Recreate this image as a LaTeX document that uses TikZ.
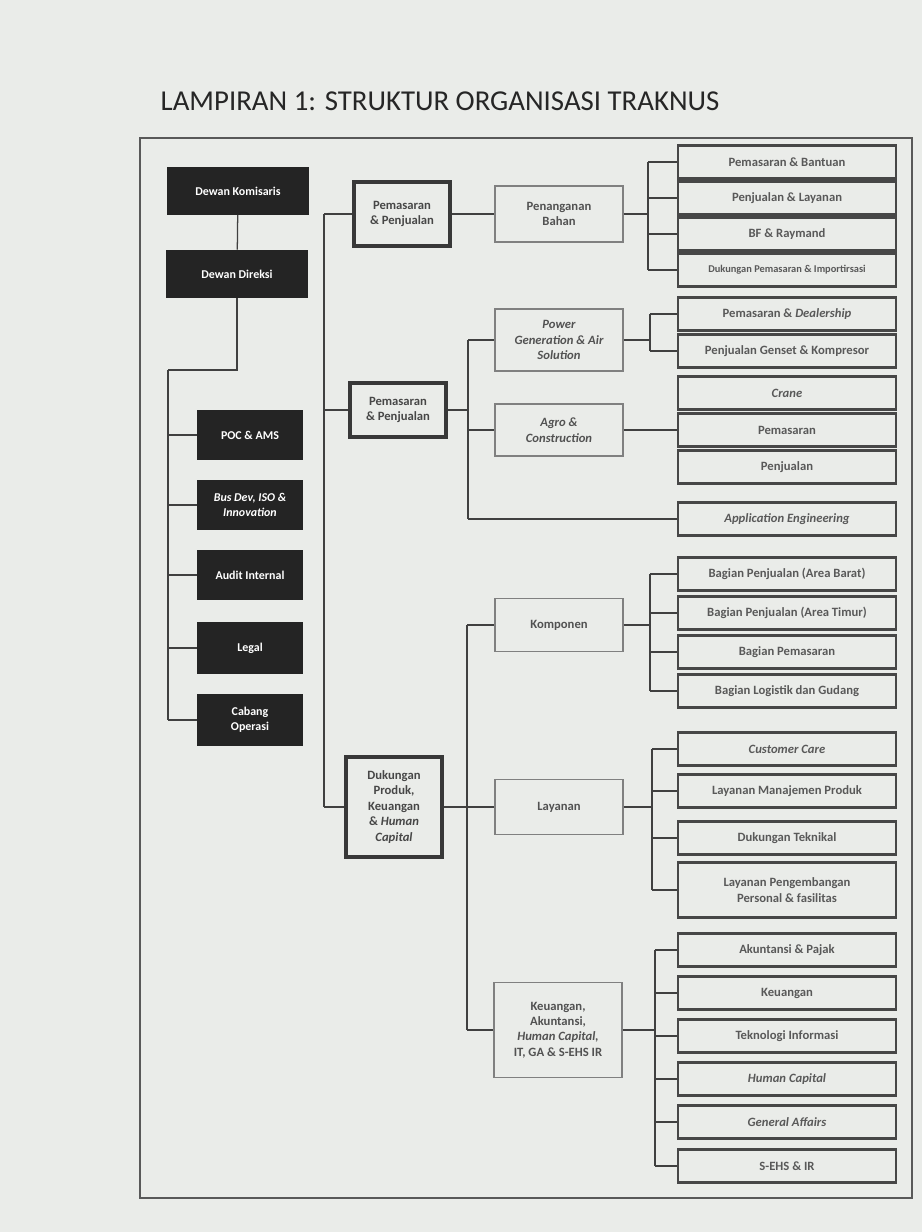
\documentclass[tikz,border=0pt]{standalone}
\usepackage{fontspec}
\setmainfont{Carlito}
\usetikzlibrary{positioning,calc}
\definecolor{paper}{RGB}{234,236,233}
\newcommand{\bxfont}{\fontsize{9}{11}\selectfont\bfseries}
\newcommand{\smfont}{\fontsize{7.4}{9}\selectfont\bfseries}
\newcommand{\dkfont}{\fontsize{8.5}{10.5}\selectfont\bfseries}
\tikzset{
  dk/.style  ={rectangle, fill=black!86, text=white, font=\dkfont, align=center, inner sep=2pt},
  lvl/.style ={rectangle, draw=black!78, line width=2.2pt, text=black!72, font=\bxfont, align=center, minimum width=2.4cm, inner sep=2pt},
  sub/.style ={rectangle, draw=black!50, line width=1pt, text=black!68, font=\bxfont, align=center, minimum width=3.2cm, inner sep=2pt},
  unit/.style={rectangle, draw=black!72, line width=1.8pt, text=black!65, font=\bxfont, align=center, minimum width=5.45cm, minimum height=0.82cm, inner sep=2pt},
  frm/.style ={draw=black!65, line width=0.8pt},
  e/.style   ={draw=black!75, line width=0.9pt},
}
\begin{document}
\begin{tikzpicture}[x=0.025cm,y=-0.025cm]
\fill[paper] (0,0) rectangle (922,1232);
\useasboundingbox (0,0) rectangle (922,1232);
\node[font=\fontsize{20.5}{24}\selectfont, text=black!85] (title) at (440,101) {LAMPIRAN 1: STRUKTUR ORGANISASI TRAKNUS};
\draw[frm] (140,138) rectangle (912,1198);
% boards and staff units
\node[dk, minimum width=3.55cm, minimum height=1.18cm] (kom) at (238,191) {Dewan Komisaris};
\node[dk, minimum width=3.55cm, minimum height=1.2cm] (dir) at (237,274) {Dewan Direksi};
\node[dk, minimum width=2.65cm, minimum height=1.25cm] (poc) at (250,435) {POC \& AMS};
\node[dk, minimum width=2.65cm, minimum height=1.25cm] (bdv) at (250,505) {\itshape Bus Dev, ISO \&\\\itshape Innovation};
\node[dk, minimum width=2.65cm, minimum height=1.25cm] (aud) at (250,575) {Audit Internal};
\node[dk, minimum width=2.65cm, minimum height=1.3cm] (leg) at (250,648) {Legal};
\node[dk, minimum width=2.65cm, minimum height=1.3cm] (cab) at (250,720) {Cabang\\Operasi};
\coordinate (lt) at (168,370);
\draw[e] (kom) -- (dir);
\draw[e] (dir.south) |- (lt);
\draw[e] (lt) -- (lt |- cab);
\draw[e] (lt |- poc) -- (poc.west);  \draw[e] (lt |- bdv) -- (bdv.west);
\draw[e] (lt |- aud) -- (aud.west);  \draw[e] (lt |- leg) -- (leg.west);
\draw[e] (lt |- cab) -- (cab.west);
% directorates
\node[lvl, minimum height=1.6cm] (pp1) at (402,214) {Pemasaran\\\& Penjualan};
\node[lvl, minimum height=1.35cm] (pp2) at (398,410) {Pemasaran\\\& Penjualan};
\node[lvl, minimum height=2.5cm] (dpk) at (394,807) {Dukungan\\Produk,\\Keuangan\\\& \itshape Human\\\itshape Capital};
\coordinate (mt) at (324,214);
\draw[e] (mt) -- (mt |- dpk);
\draw[e] (mt) -- (pp1.west);  \draw[e] (mt |- pp2) -- (pp2.west);  \draw[e] (mt |- dpk) -- (dpk.west);
% divisions
\node[sub, minimum height=1.4cm] (pb) at (559,214) {Penanganan\\Bahan};
\node[sub, minimum height=1.55cm] (pg) at (559,340) {\itshape Power\\\itshape Generation \& Air\\\itshape Solution};
\node[sub, minimum height=1.3cm] (ag) at (559,430) {\itshape Agro \&\\\itshape Construction};
\node[sub, minimum height=1.33cm] (kp) at (559,625) {Komponen};
\node[sub, minimum height=1.38cm] (ly) at (559,807) {Layanan};
\node[sub, minimum height=2.38cm] (ku) at (558,1030) {Keuangan,\\Akuntansi,\\\itshape Human Capital,\\IT, GA \& S-EHS IR};
\draw[e] (pp1) -- (pb);
\coordinate (b2) at (468,410);
\draw[e] (pp2) -- (b2);
\draw[e] (b2 |- pg) -- (pg.west);  \draw[e] (b2 |- ag) -- (ag.west);
\coordinate (b3) at (467,807);
\draw[e] (dpk) -- (b3);
\draw[e] (b3 |- kp) -- (b3 |- ku);
\draw[e] (b3 |- kp) -- (kp.west);  \draw[e] (b3) -- (ly.west);  \draw[e] (b3 |- ku) -- (ku.west);
% units
\node[unit] (pbt) at (787,162) {Pemasaran \& Bantuan};
\node[unit] (pjl) at (787,198) {Penjualan \& Layanan};
\node[unit] (bfr) at (787,234) {BF \& Raymand};
\node[unit, font=\smfont] (dpi) at (787,270) {Dukungan Pemasaran \& Importirsasi};
\node[unit] (pdl) at (787,314) {Pemasaran \& \itshape Dealership};
\node[unit] (pgk) at (787,351) {Penjualan Genset \& Kompresor};
\node[unit] (crn) at (787,393) {\itshape Crane};
\node[unit] (pms) at (787,430) {Pemasaran};
\node[unit] (pjn) at (787,467) {Penjualan};
\node[unit] (ape) at (787,519) {\itshape Application Engineering};
\node[unit] (bpb) at (787,574) {Bagian Penjualan (Area Barat)};
\node[unit] (bpt) at (787,613) {Bagian Penjualan (Area Timur)};
\node[unit] (bpm) at (787,652) {Bagian Pemasaran};
\node[unit] (blg) at (787,691) {Bagian Logistik dan Gudang};
\node[unit] (cc) at (787,749) {\itshape Customer Care};
\node[unit] (lmp) at (787,791) {Layanan Manajemen Produk};
\node[unit] (dtk) at (787,838) {Dukungan Teknikal};
\node[unit, minimum height=1.38cm] (lpp) at (787,890) {Layanan Pengembangan\\Personal \& fasilitas};
\node[unit] (akp) at (787,950) {Akuntansi \& Pajak};
\node[unit] (keu) at (787,993) {Keuangan};
\node[unit] (tki) at (787,1036) {Teknologi Informasi};
\node[unit] (hc) at (787,1079) {\itshape Human Capital};
\node[unit] (ga) at (787,1122) {\itshape General Affairs};
\node[unit] (seh) at (787,1166) {S-EHS \& IR};
% unit buses
\coordinate (u1) at (648,214);
\draw[e] (pb) -- (u1);
\draw[e] (u1 |- pbt) -- (u1 |- dpi);
\draw[e] (u1 |- pbt) -- (pbt.west);  \draw[e] (u1 |- pjl) -- (pjl.west);
\draw[e] (u1 |- bfr) -- (bfr.west);  \draw[e] (u1 |- dpi) -- (dpi.west);
\coordinate (u2) at (650,340);
\draw[e] (pg) -- (u2);
\draw[e] (u2 |- pdl) -- (u2 |- pgk);
\draw[e] (u2 |- pdl) -- (pdl.west);  \draw[e] (u2 |- pgk) -- (pgk.west);
\draw[e] (ag) -- (pms);
\draw[e] (b2 |- pg) -- (b2 |- ape);
\draw[e] (b2 |- ape) -- (ape.west);
\coordinate (u3) at (650,625);
\draw[e] (kp) -- (u3);
\draw[e] (u3 |- bpb) -- (u3 |- blg);
\draw[e] (u3 |- bpb) -- (bpb.west);  \draw[e] (u3 |- bpt) -- (bpt.west);
\draw[e] (u3 |- bpm) -- (bpm.west);  \draw[e] (u3 |- blg) -- (blg.west);
\coordinate (u4) at (652,807);
\draw[e] (ly) -- (u4);
\draw[e] (u4 |- cc) -- (u4 |- lpp);
\draw[e] (u4 |- cc) -- (cc.west);  \draw[e] (u4 |- lmp) -- (lmp.west);
\draw[e] (u4 |- dtk) -- (dtk.west);  \draw[e] (u4 |- lpp) -- (lpp.west);
\coordinate (u5) at (655,1030);
\draw[e] (ku) -- (u5);
\draw[e] (u5 |- akp) -- (u5 |- seh);
\draw[e] (u5 |- akp) -- (akp.west);  \draw[e] (u5 |- keu) -- (keu.west);
\draw[e] (u5 |- tki) -- (tki.west);  \draw[e] (u5 |- hc) -- (hc.west);
\draw[e] (u5 |- ga) -- (ga.west);  \draw[e] (u5 |- seh) -- (seh.west);
\end{tikzpicture}
\end{document}
